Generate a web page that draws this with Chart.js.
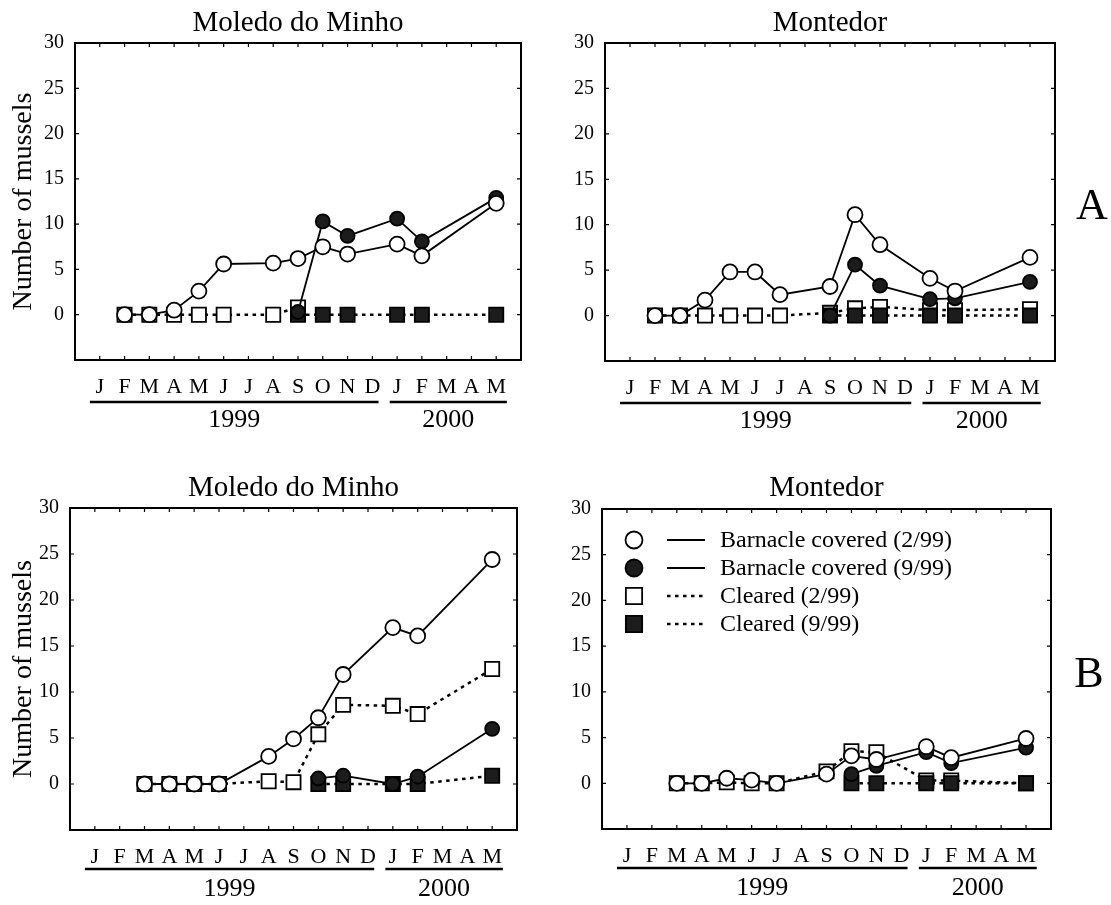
<!DOCTYPE html>
<html>
<head>
<meta charset="utf-8">
<title>Number of mussels</title>
<script src="https://cdn.jsdelivr.net/npm/chart.js@4.4.1/dist/chart.umd.min.js"></script>
<style>
    body { margin: 0; background: #fff; }
    .panel { position: absolute; }
</style>
</head>
<body>
<canvas class="panel" id="chart_a_moledo" width="545" height="440" style="left:0;top:0"></canvas>
<canvas class="panel" id="chart_a_montedor" width="566" height="440" style="left:545px;top:0"></canvas>
<canvas class="panel" id="chart_b_moledo" width="545" height="440" style="left:0;top:465px"></canvas>
<canvas class="panel" id="chart_b_montedor" width="566" height="440" style="left:545px;top:465px"></canvas>
<script>
// J 1999 ... M 2000, one slot per month
var monthLabels = ['J', 'F', 'M', 'A', 'M', 'J', 'J', 'A', 'S', 'O', 'N', 'D', 'J', 'F', 'M', 'A', 'M'];
var yearLabels = ['1999', '2000'];
var yTickValues = [0, 5, 10, 15, 20, 25, 30];
var seriesNames = ['Barnacle covered (2/99)', 'Barnacle covered (9/99)', 'Cleared (2/99)', 'Cleared (9/99)'];

// A - Moledo do Minho
var moledoA_covered299 = [null, 0, 0, 0.5, 2.6, 5.6, null, 5.7, 6.2, 7.5, 6.7, null, 7.8, 6.5, null, null, 12.3];
var moledoA_covered999 = [null, null, null, null, null, null, null, null, 0.3, 10.3, 8.7, null, 10.6, 8.1, null, null, 12.9];
var moledoA_cleared299 = [null, 0, 0, 0, 0, 0, null, 0, 0.8, null, null, null, null, null, null, null, null];
var moledoA_cleared999 = [null, null, null, null, null, null, null, null, 0, 0, 0, null, 0, 0, null, null, 0];

// A - Montedor
var montedorA_covered299 = [null, 0, 0, 1.7, 4.8, 4.8, 2.3, null, 3.2, 11.1, 7.8, null, 4.1, 2.7, null, null, 6.4];
var montedorA_covered999 = [null, null, null, null, null, null, null, null, 0, 5.6, 3.3, null, 1.8, 1.9, null, null, 3.7];
var montedorA_cleared299 = [null, 0, 0, 0, 0, 0, 0, null, 0.3, 0.8, 0.95, null, 0.6, 0.6, null, null, 0.7];
var montedorA_cleared999 = [null, null, null, null, null, null, null, null, 0, 0, 0, null, 0, 0, null, null, 0];

// B - Moledo do Minho
var moledoB_covered299 = [null, null, 0, 0, 0, 0, null, 3.0, 4.9, 7.2, 11.9, null, 17.0, 16.1, null, null, 24.4];
var moledoB_covered999 = [null, null, null, null, null, null, null, null, null, 0.6, 0.9, null, 0, 0.8, null, null, 6.0];
var moledoB_cleared299 = [null, null, 0, 0, 0, 0, null, 0.3, 0.2, 5.4, 8.6, null, 8.5, 7.6, null, null, 12.5];
var moledoB_cleared999 = [null, null, null, null, null, null, null, null, null, 0, 0, null, 0, 0, null, null, 0.9];

// B - Montedor
var montedorB_covered299 = [null, null, 0, 0, 0.55, 0.35, 0, null, 1.0, 3.0, 2.6, null, 4.0, 2.8, null, null, 4.9];
var montedorB_covered999 = [null, null, null, null, null, null, null, null, null, 1.0, 1.9, null, 3.4, 2.2, null, null, 3.9];
var montedorB_cleared299 = [null, null, 0, 0, 0.1, 0, 0, null, 1.3, 3.5, 3.4, null, 0.3, 0.3, null, null, 0];
var montedorB_cleared999 = [null, null, null, null, null, null, null, null, null, 0, 0, null, 0, 0, null, null, 0];

Chart.defaults.font.family = "'Liberation Serif', 'Times New Roman', serif";
Chart.defaults.color = '#000';

var seriesStyles = [
    { pointStyle: 'circle', pointRadius: 7.5, backgroundColor: '#fff', borderDash: [], borderWidth: 1.8, order: 0 },
    { pointStyle: 'circle', pointRadius: 7, backgroundColor: '#1c1c1c', borderDash: [], borderWidth: 1.8, order: 1 },
    { pointStyle: 'rect', pointRadius: 10, backgroundColor: '#fff', borderDash: [3.5, 4.5], borderWidth: 2.5, order: 3 },
    { pointStyle: 'rect', pointRadius: 10, backgroundColor: '#1c1c1c', borderDash: [3.5, 4.5], borderWidth: 2.5, order: 2 }
];

function toPoints(values) {
    var pts = [];
    for (var i = 0; i < values.length; ++i) {
        if (values[i] !== null) pts.push({ x: i, y: values[i] });
    }
    return pts;
}

function buildDatasets(seriesList) {
    return seriesList.map(function (values, k) {
        var st = seriesStyles[k];
        return {
            label: seriesNames[k],
            data: toPoints(values),
            borderColor: '#000',
            borderWidth: st.borderWidth,
            borderDash: st.borderDash,
            pointStyle: st.pointStyle,
            pointRadius: st.pointRadius,
            pointBackgroundColor: st.backgroundColor,
            pointBorderColor: '#000',
            pointBorderWidth: 1.8,
            backgroundColor: st.backgroundColor,
            fill: false,
            tension: 0,
            order: st.order
        };
    });
}

// box round the plot, inward ticks, year bars, legend and panel letter
var framePlugin = {
    id: 'frame',
    afterDraw: function (chart, args, opts) {
        var ctx = chart.ctx, a = chart.chartArea;
        var xs = chart.scales.x, ys = chart.scales.y;
        ctx.save();
        ctx.strokeStyle = '#000';
        ctx.lineWidth = 2;
        ctx.strokeRect(a.left, a.top, a.right - a.left, a.bottom - a.top);
        ctx.lineWidth = 1.2;
        ctx.beginPath();
        for (var m = -1; m <= monthLabels.length; ++m) {
            var px = xs.getPixelForValue(m);
            ctx.moveTo(px, a.bottom); ctx.lineTo(px, a.bottom - 4);
            ctx.moveTo(px, a.top); ctx.lineTo(px, a.top + 4);
        }
        ys.ticks.forEach(function (t) {
            var py = ys.getPixelForValue(t.value);
            ctx.moveTo(a.left, py); ctx.lineTo(a.left + 4, py);
            ctx.moveTo(a.right, py); ctx.lineTo(a.right - 4, py);
        });
        ctx.stroke();

        // year bars under the month letters
        var spans = [[-0.4, 11.25], [11.7, 16.43]];
        ctx.lineWidth = 2.5;
        ctx.font = '26px ' + Chart.defaults.font.family;
        ctx.textAlign = 'center';
        ctx.textBaseline = 'middle';
        ctx.fillStyle = '#000';
        for (var k = 0; k < yearLabels.length; ++k) {
            var x0 = xs.getPixelForValue(spans[k][0]), x1 = xs.getPixelForValue(spans[k][1]);
            ctx.beginPath();
            ctx.moveTo(x0, a.bottom + opts.yearLine);
            ctx.lineTo(x1, a.bottom + opts.yearLine);
            ctx.stroke();
            ctx.fillText(yearLabels[k], (x0 + x1) / 2, a.bottom + opts.yearText);
        }

        if (opts.letter) {
            ctx.font = '44px ' + Chart.defaults.font.family;
            ctx.fillText(opts.letter, opts.letterX, opts.letterY);
        }

        if (opts.legend) {
            ctx.font = '24px ' + Chart.defaults.font.family;
            ctx.textAlign = 'left';
            chart.data.datasets.forEach(function (ds, i) {
                var y = a.top + 31 + i * 28;
                ctx.fillStyle = ds.pointBackgroundColor;
                ctx.strokeStyle = '#000';
                ctx.lineWidth = 1.8;
                ctx.setLineDash([]);
                Chart.helpers.drawPoint(ctx, { pointStyle: ds.pointStyle, radius: ds.pointStyle === 'rect' ? 11.5 : 8.5, borderWidth: 1.8, rotation: 0 }, a.left + 32, y);
                ctx.lineWidth = ds.pointStyle === 'rect' ? 2.5 : 1.8;
                ctx.setLineDash(ds.borderDash);
                ctx.beginPath();
                ctx.moveTo(a.left + 65, y);
                ctx.lineTo(a.left + 103, y);
                ctx.stroke();
                ctx.setLineDash([]);
                ctx.fillStyle = '#000';
                ctx.fillText(ds.label, a.left + 118, y + 1);
            });
        }
        ctx.restore();
    }
};

function makePanel(canvasId, title, seriesList, p) {
    var ctx = document.getElementById(canvasId).getContext('2d');
    return new Chart(ctx, {
        type: 'line',
        data: { datasets: buildDatasets(seriesList) },
        options: {
            responsive: false,
            animation: false,
            events: [],
            layout: { padding: { left: 0, right: p.padRight, top: 0, bottom: 0 } },
            plugins: {
                legend: { display: false },
                tooltip: { enabled: false },
                title: {
                    display: true,
                    text: title,
                    fullSize: false,
                    font: { size: 29, weight: 'normal', lineHeight: 1.2 },
                    padding: { top: 6, bottom: p.titleBlock - 6 - 34.8 }
                },
                frame: p
            },
            scales: {
                x: {
                    type: 'linear',
                    min: -1,
                    max: monthLabels.length,
                    grid: { display: false },
                    border: { display: false },
                    ticks: {
                        stepSize: 1,
                        autoSkip: false,
                        maxRotation: 0,
                        maxTicksLimit: 40,
                        padding: 6,
                        font: { size: 22 },
                        callback: function (v) {
                            return monthLabels[Math.round(v)] || '';
                        }
                    },
                    afterFit: function (scale) { scale.height = p.xHeight; }
                },
                y: {
                    min: -5,
                    max: 30,
                    grid: { display: false, drawTicks: false },
                    border: { display: false },
                    title: {
                        display: p.yTitle,
                        text: 'Number of mussels',
                        font: { size: 28 },
                        padding: { top: 7, bottom: 0 }
                    },
                    ticks: {
                        stepSize: 5,
                        padding: 11,
                        font: { size: 20 },
                        callback: function (v) {
                            return yTickValues.indexOf(v) >= 0 ? String(v) : '';
                        }
                    },
                    afterFit: function (scale) { scale.width = p.yWidth; }
                }
            }
        },
        plugins: [framePlugin]
    });
}

var chartAMoledo = makePanel('chart_a_moledo', 'Moledo do Minho',
    [moledoA_covered299, moledoA_covered999, moledoA_cleared299, moledoA_cleared999],
    { yWidth: 75, padRight: 24, xHeight: 80, titleBlock: 43, yTitle: true, yearLine: 42, yearText: 60 });

var chartAMontedor = makePanel('chart_a_montedor', 'Montedor',
    [montedorA_covered299, montedorA_covered999, montedorA_cleared299, montedorA_cleared999],
    { yWidth: 60, padRight: 56, xHeight: 79, titleBlock: 43, yTitle: false, yearLine: 42, yearText: 60,
      letter: 'A', letterX: 547, letterY: 207 });

var chartBMoledo = makePanel('chart_b_moledo', 'Moledo do Minho',
    [moledoB_covered299, moledoB_covered999, moledoB_cleared299, moledoB_cleared999],
    { yWidth: 70, padRight: 28, xHeight: 75, titleBlock: 43, yTitle: true, yearLine: 39, yearText: 59 });

var chartBMontedor = makePanel('chart_b_montedor', 'Montedor',
    [montedorB_covered299, montedorB_covered999, montedorB_cleared299, montedorB_cleared999],
    { yWidth: 57, padRight: 60, xHeight: 76, titleBlock: 44, yTitle: false, yearLine: 39, yearText: 59,
      letter: 'B', letterX: 544, letterY: 210, legend: true });
</script>
</body>
</html>
